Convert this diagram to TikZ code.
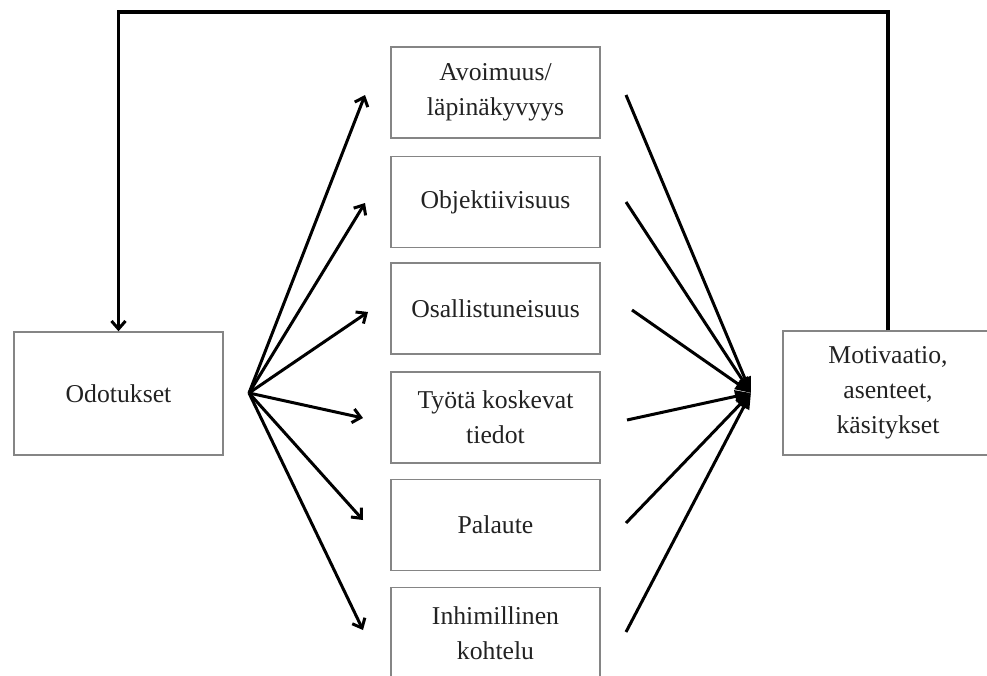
\documentclass[tikz,border=0pt]{standalone}
\usepackage{fontspec}
\setmainfont{Liberation Serif}
\usetikzlibrary{arrows.meta}
\definecolor{boxgray}{HTML}{858585}
\definecolor{textgray}{HTML}{222222}
\begin{document}
\begin{tikzpicture}[x=1pt,y=-1pt,
  box/.style={draw=boxgray, line width=1.5pt, minimum width=209pt, minimum height=91pt,
    inner sep=0pt, align=center, text=textgray, font=\fontsize{25.7}{35}\selectfont},
  fan/.style={line width=3pt, -{Straight Barb[length=8pt,width=14pt,line width=3pt]}},
  fanin/.style={line width=3pt, -{Triangle[length=16pt,width=12pt]}},
  feedback/.style={line width=3.4pt, -{Straight Barb[length=8pt,width=14pt,line width=3pt]}}
]
\useasboundingbox (0,0) rectangle (987,675);

\node[box, minimum height=123pt] (odo) at (118.5,393.5) {Odotukset};
\node[box, minimum width=210pt, minimum height=124pt] (mot) at (888,393) {Motivaatio,\\asenteet,\\käsitykset};

\node[box] (b1) at (495.5,92.5) {Avoimuus/\\läpinäkyvyys};
\node[box] (b2) at (495.5,202) {Objektiivisuus};
\node[box] (b3) at (495.5,308.5) {Osallistuneisuus};
\node[box] (b4) at (495.5,417.5) {Työtä koskevat\\tiedot};
\node[box] (b5) at (495.5,525) {Palaute};
\node[box] (b6) at (495.5,633) {Inhimillinen\\kohtelu};

\coordinate (hub) at (249,393);
\coordinate (l1) at (365,95);
\coordinate (l2) at (365,203);
\coordinate (l3) at (368,312);
\coordinate (l4) at (363,418);
\coordinate (l5) at (363,520);
\coordinate (l6) at (363,630);
\foreach \i in {1,...,6} \draw[fan] (hub) -- (l\i);

\coordinate (conv) at (751,393);
\coordinate (r1) at (626,95);
\coordinate (r2) at (626,202);
\coordinate (r3) at (632,310);
\coordinate (r4) at (627,420);
\coordinate (r5) at (626,523);
\coordinate (r6) at (626,632);
\foreach \i in {1,...,6} \draw[fanin] (r\i) -- (conv);

\coordinate (topc) at (500,12);
\draw[feedback] (mot.north) |- (topc) -| (odo.north);
\end{tikzpicture}
\end{document}
